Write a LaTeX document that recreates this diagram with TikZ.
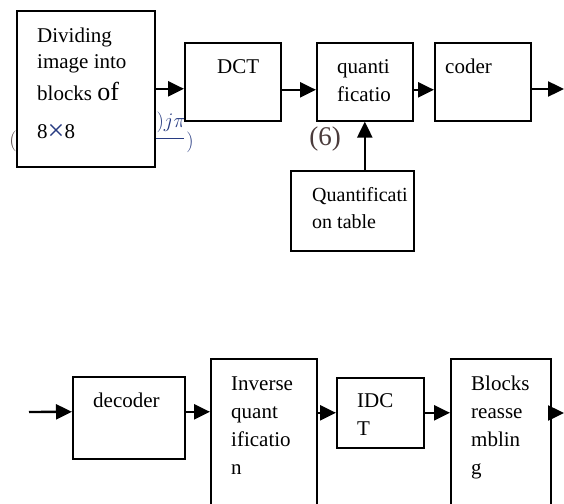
\documentclass[tikz,border=0pt]{standalone}
\usepackage{fontspec}
\setmainfont{Liberation Serif}
\usetikzlibrary{arrows.meta}
\definecolor{eqblue}{RGB}{40,60,130}
\definecolor{eqdark}{RGB}{75,60,60}

\begin{document}
\begin{tikzpicture}[
    x=1pt, y=-1pt,
    >={Triangle[length=16pt,width=15pt]},
    box/.style={
        draw,
        line width=1.6pt,
        fill=white,
        inner sep=0pt,
        anchor=north west
    },
    txt/.style={
        anchor=base west,
        align=left,
        inner sep=0pt,
        font=\fontsize{21}{28}\selectfont
    },
    flow/.style={->, line width=2.4pt}
]

\useasboundingbox (0,0) rectangle (564,503);
\clip (0,0) rectangle (564,503);

\node[text=eqblue, anchor=base east, inner sep=0pt, font=\fontsize{20}{20}\selectfont] (jpi) at (186,127) {$)j\pi$};
\node[text=eqblue, inner sep=0pt, font=\fontsize{22}{22}\selectfont] (rpar) at (190,142) {$)$};
\node[text=eqdark, inner sep=0pt, font=\fontsize{22}{22}\selectfont] (lpar) at (13,141) {$($};
\draw[eqblue, line width=0.8pt] (150,138) -- (184,138);
\node[text=eqdark, inner sep=0pt, font=\fontsize{27}{27}\selectfont] (eqno) at (325,139) {(6)};

\node[box, minimum width=138pt, minimum height=156pt] (b1) at (16,10) {};
\node[box, minimum width=96pt, minimum height=78pt] (dct) at (184,42) {};
\node[box, minimum width=96pt, minimum height=78pt] (qnt) at (316,42) {};
\node[box, minimum width=96pt, minimum height=78pt] (cod) at (434,42) {};
\node[box, minimum width=123pt, minimum height=80pt] (tab) at (290,170) {};

\node[box, minimum width=112pt, minimum height=82pt] (dec) at (72,376) {};
\node[box, minimum width=106pt, minimum height=160pt] (inv) at (210,358) {};
\node[box, minimum width=87pt, minimum height=70pt] (idct) at (336,377) {};
\node[box, minimum width=100pt, minimum height=160pt] (blk) at (450,358) {};

\node[txt, font=\fontsize{21}{26}\selectfont] (b1t) at (37,138)
    {Dividing\\image into\\[6pt]blocks {\fontsize{26}{26}\selectfont of}\\[12pt]8\raisebox{-2.5pt}{\fontsize{30}{26}\selectfont\color{eqblue}×}8};
\node[txt] (dctt) at (217,73) {DCT};
\node[txt] (qntt) at (337,101) {quanti\\ficatio};
\node[txt] (codt) at (445,73) {coder};
\node[txt, font=\fontsize{20}{27}\selectfont] (tabt) at (312,228) {Quantificati\\on table};

\node[txt] (dect) at (93,407) {decoder};
\node[txt] (invt) at (231,474) {Inverse\\quant\\ificatio\\n};
\node[txt] (idctt) at (357,435) {IDC\\T};
\node[txt] (blkt) at (471,474) {Blocks\\reasse\\mblin\\g};

\coordinate (out1) at (564,89);
\coordinate (in2) at (29,412);
\coordinate (out2) at (564,413);

\draw[flow] (b1.east) -- (b1.east -| dct.west);
\draw[flow] ([yshift=-8pt]dct.east) -- ([yshift=-8pt]qnt.west);
\draw[flow] ([yshift=-8pt]qnt.east) -- ([yshift=-8pt]cod.west);
\draw[flow] (cod.east |- out1) -- (out1);
\draw[flow] (qnt.south |- tab.north) -- (qnt.south);

\draw[flow] (in2) -- ([yshift=6pt]dec.west);
\draw[flow] ([yshift=6pt]dec.east) -- ([yshift=6pt]dec.east -| inv.west);
\draw[flow] (idct.west -| inv.east) -- (idct.west);
\draw[flow] (idct.east) -- (idct.east -| blk.west);
\draw[flow] (out2 -| blk.east) -- (out2);

\end{tikzpicture}
\end{document}
